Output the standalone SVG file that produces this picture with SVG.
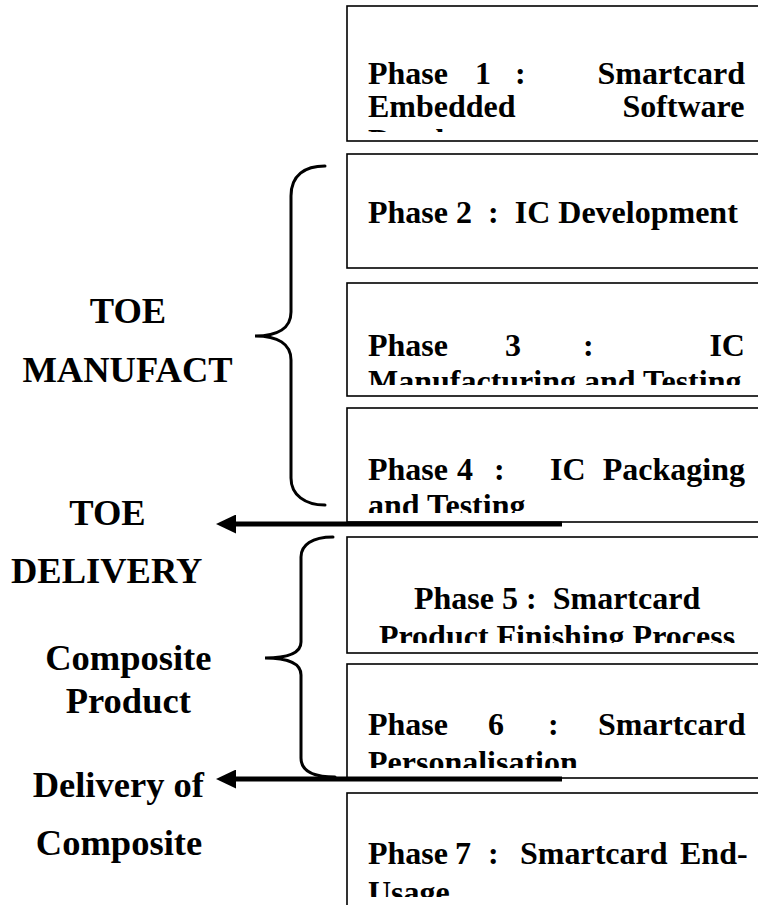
<svg xmlns="http://www.w3.org/2000/svg" width="758" height="905" viewBox="0 0 758 905">
<style>
.box{fill:#fff;stroke:#000;stroke-width:1.6}
.t{font-family:"Liberation Serif","Times New Roman",serif;font-weight:bold;font-size:32px;fill:#000}
.lbl{font-family:"Liberation Serif","Times New Roman",serif;font-weight:bold;font-size:36.5px;fill:#000;text-anchor:middle}
.brace{fill:none;stroke:#000;stroke-width:3;stroke-linecap:round}
.arrow{fill:none;stroke:#000;stroke-width:5}
</style>
<defs>
<marker id="ah" viewBox="0 0 20 19" refX="0" refY="9.5" markerWidth="20" markerHeight="19" markerUnits="userSpaceOnUse" orient="auto">
<polygon points="0,0 20,9.5 0,19" fill="#000"/>
</marker>
<clipPath id="c1"><rect x="347" y="6" width="420" height="126"/></clipPath>
<clipPath id="c3"><rect x="347" y="283" width="420" height="102"/></clipPath>
<clipPath id="c4"><rect x="347" y="408" width="420" height="105"/></clipPath>
<clipPath id="c5"><rect x="347" y="537" width="420" height="106"/></clipPath>
<clipPath id="c6"><rect x="347" y="664" width="420" height="104"/></clipPath>
<clipPath id="c7"><rect x="347" y="793" width="420" height="104"/></clipPath>
</defs>
<rect width="758" height="905" fill="#fff"/>

<g id="phase1">
<rect class="box" x="347" y="6" width="430" height="135"/>
<g clip-path="url(#c1)">
<text class="t" y="84"><tspan x="368">Phase</tspan><tspan x="475">1</tspan><tspan x="515">:</tspan><tspan x="597.5">Smartcard</tspan></text>
<text class="t" y="117"><tspan x="368">Embedded</tspan><tspan x="622.4">Software</tspan></text>
<text class="t" x="368" y="151">Development</text>
</g>
</g>

<g id="phase2">
<rect class="box" x="347" y="154" width="430" height="114"/>
<text class="t" y="223"><tspan x="368">Phase</tspan><tspan x="456">2</tspan><tspan x="488">:</tspan><tspan x="514.7">IC</tspan><tspan x="558.3">Development</tspan></text>
</g>

<g id="phase3">
<rect class="box" x="347" y="283" width="430" height="113"/>
<g clip-path="url(#c3)">
<text class="t" y="356"><tspan x="368">Phase</tspan><tspan x="505">3</tspan><tspan x="583">:</tspan><tspan x="709.4">IC</tspan></text>
<text class="t" x="368" y="392">Manufacturing and Testing</text>
</g>
</g>

<g id="phase4">
<rect class="box" x="347" y="408" width="430" height="114"/>
<g clip-path="url(#c4)">
<text class="t" y="480"><tspan x="368">Phase</tspan><tspan x="457">4</tspan><tspan x="494">:</tspan><tspan x="550">IC</tspan><tspan x="602.8">Packaging</tspan></text>
<text class="t" x="368" y="516">and Testing</text>
</g>
</g>

<g id="phase5">
<rect class="box" x="347" y="537" width="430" height="116"/>
<g clip-path="url(#c5)">
<text class="t" y="609"><tspan x="414">Phase</tspan><tspan x="502">5</tspan><tspan x="526">:</tspan><tspan x="552.7">Smartcard</tspan></text>
<text class="t" x="557" y="647" text-anchor="middle">Product Finishing Process</text>
</g>
</g>

<g id="phase6">
<rect class="box" x="347" y="664" width="430" height="114"/>
<g clip-path="url(#c6)">
<text class="t" y="735"><tspan x="368">Phase</tspan><tspan x="488">6</tspan><tspan x="548">:</tspan><tspan x="598">Smartcard</tspan></text>
<text class="t" x="368" y="773">Personalisation</text>
</g>
</g>

<g id="phase7">
<rect class="box" x="347" y="793" width="430" height="130"/>
<g clip-path="url(#c7)">
<text class="t" y="864"><tspan x="368">Phase</tspan><tspan x="455">7</tspan><tspan x="488">:</tspan><tspan x="520">Smartcard</tspan><tspan x="680">End-</tspan></text>
<text class="t" x="368" y="903">Usage</text>
</g>
</g>

<g id="labels">
<text class="lbl" x="128" y="323">TOE</text>
<text class="lbl" x="127.5" y="382">MANUFACT</text>
<text class="lbl" x="107.5" y="525">TOE</text>
<text class="lbl" x="106.7" y="583">DELIVERY</text>
<text class="lbl" x="128.3" y="670">Composite</text>
<text class="lbl" x="128.3" y="713">Product</text>
<text class="lbl" x="118.3" y="797">Delivery of</text>
<text class="lbl" x="119" y="855">Composite</text>
</g>

<g id="brackets">
<path class="brace" d="M 325 166 C 305 166, 291 175, 291 196 L 291 312 C 291 328, 278 336, 255 336 C 278 336, 291 344, 291 360 L 291 478 C 291 495, 305 505, 325 505"/>
<path class="brace" d="M 333 537 C 312 537, 301 545, 301 557 L 301 642 C 301 652, 290 658, 265 658 C 290 658, 301 664, 301 675 L 301 758 C 301 772, 315 777, 335 777"/>
</g>

<g id="connectors">
<path class="arrow" d="M 562 524 L 236 524" marker-end="url(#ah)"/>
<path class="arrow" d="M 562 779 L 236 779" marker-end="url(#ah)"/>
</g>
</svg>
